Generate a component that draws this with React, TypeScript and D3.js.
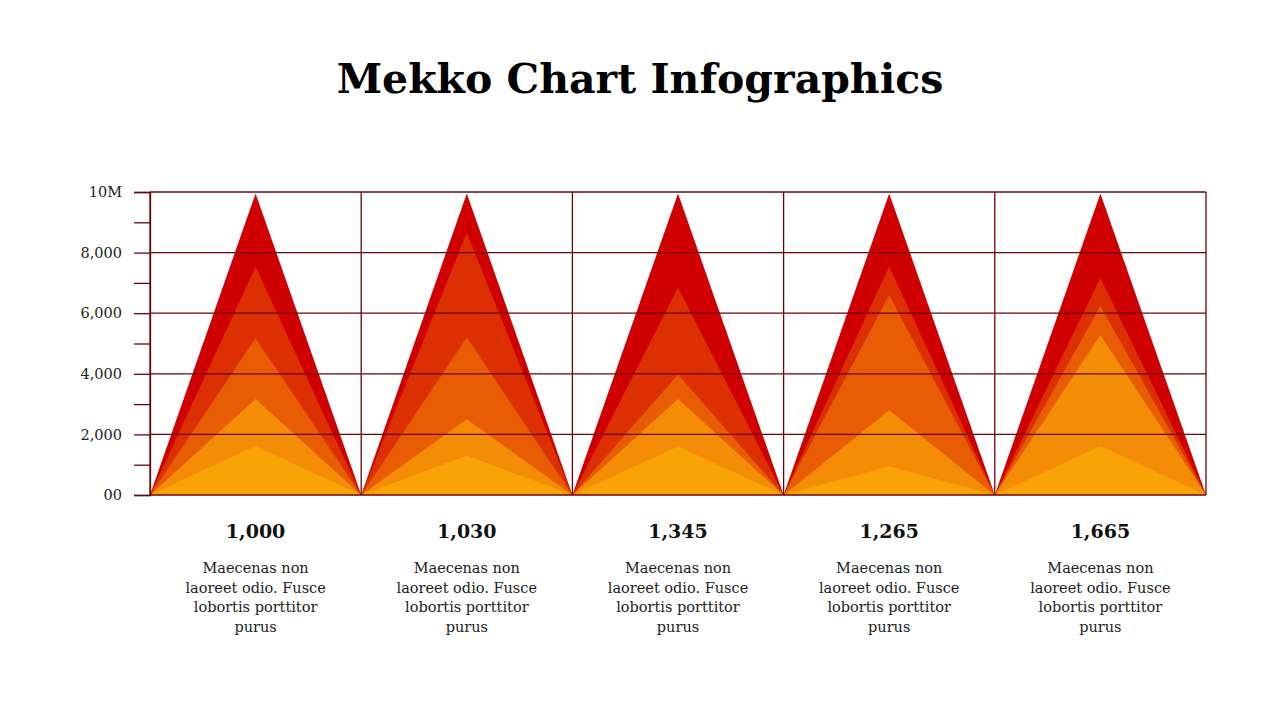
import { useEffect, useRef } from "react";
import * as d3 from "d3";

// category labels shown under each triangle
const categories = ["1,000", "1,030", "1,345", "1,265", "1,665"];

// layer values per category, outer (tallest) to inner
const layer1 = [9950, 9950, 9950, 9950, 9950];
const layer2 = [7530, 8650, 6850, 7550, 7170];
const layer3 = [5170, 5200, 3980, 6600, 6240];
const layer4 = [3170, 2500, 3170, 2800, 5280];
const layer5 = [1620, 1300, 1600, 950, 1620];

const layerColors = ["#d00000", "#dc2f02", "#e85d04", "#f48c06", "#faa307"];

const yTicks = [0, 2000, 4000, 6000, 8000, 10000];
const yTickLabels = ["00", "2,000", "4,000", "6,000", "8,000", "10M"];

const descLines = ["Maecenas non", "laoreet odio. Fusce", "lobortis porttitor", "purus"];

const WIDTH = 1280;
const HEIGHT = 720;
const GRID = "#6a040f";
const FONT = "'DejaVu Serif', serif";

export default function App() {
  const axisRef = useRef<SVGGElement>(null);

  const x = d3.scaleBand<string>().domain(categories).range([150, 1206]).padding(0);
  const y = d3.scaleLinear().domain([0, 10000]).range([495, 192]);

  const layers = [layer1, layer2, layer3, layer4, layer5];

  useEffect(() => {
    if (!axisRef.current) return;
    const g = d3.select(axisRef.current);
    g.selectAll("*").remove();
    const axis = d3
      .axisLeft(y)
      .tickValues(d3.range(0, 10001, 1000))
      .tickSize(16)
      .tickPadding(12)
      .tickFormat((d) => {
        const i = yTicks.indexOf(d as number);
        return i >= 0 ? yTickLabels[i] : "";
      });
    g.call(axis);
    g.select(".domain").attr("stroke", GRID).attr("stroke-width", 1.3);
    g.selectAll(".tick line").attr("stroke", GRID).attr("stroke-width", 1.3);
    g.selectAll(".tick text")
      .attr("fill", "#222")
      .attr("font-family", FONT)
      .attr("font-size", 14.5);
  }, []);

  const tri = d3
    .line<[number, number]>()
    .x((d) => d[0])
    .y((d) => d[1]);

  return (
    <svg
      width={WIDTH}
      height={HEIGHT}
      style={{ position: "absolute", top: 0, left: 0, background: "#fff" }}
    >
      <text
        x={WIDTH / 2}
        y={93}
        textAnchor="middle"
        fontFamily={FONT}
        fontWeight="bold"
        fontSize={41}
        fill="#000"
      >
        Mekko Chart Infographics
      </text>

      {/* layered triangles */}
      {categories.map((c, ci) => {
        const x0 = x(c)!;
        const x1 = x0 + x.bandwidth();
        const xm = x0 + x.bandwidth() / 2;
        return (
          <g key={c}>
            {layers.map((vals, li) => (
              <path
                key={li}
                d={tri([
                  [x0, y(0)],
                  [xm, y(vals[ci])],
                  [x1, y(0)],
                ])! + "Z"}
                fill={layerColors[li]}
              />
            ))}
          </g>
        );
      })}

      {/* grid */}
      {yTicks.map((t) => (
        <line
          key={t}
          x1={150}
          x2={1206}
          y1={y(t)}
          y2={y(t)}
          stroke={GRID}
          strokeWidth={1.3}
        />
      ))}
      {categories.map((c) => (
        <line
          key={c}
          x1={x(c)!}
          x2={x(c)!}
          y1={y(10000)}
          y2={y(0)}
          stroke={GRID}
          strokeWidth={1.3}
        />
      ))}
      <line x1={1206} x2={1206} y1={y(10000)} y2={y(0)} stroke={GRID} strokeWidth={1.3} />

      <g ref={axisRef} transform="translate(150,0)" />

      {/* labels below */}
      {categories.map((c) => {
        const xm = x(c)! + x.bandwidth() / 2;
        return (
          <g key={c}>
            <text
              x={xm}
              y={538}
              textAnchor="middle"
              fontFamily={FONT}
              fontWeight="bold"
              fontSize={19}
              fill="#111"
            >
              {c}
            </text>
            {descLines.map((l, i) => (
              <text
                key={i}
                x={xm}
                y={573 + i * 19.5}
                textAnchor="middle"
                fontFamily={FONT}
                fontSize={14.5}
                fill="#222"
              >
                {l}
              </text>
            ))}
          </g>
        );
      })}
    </svg>
  );
}
